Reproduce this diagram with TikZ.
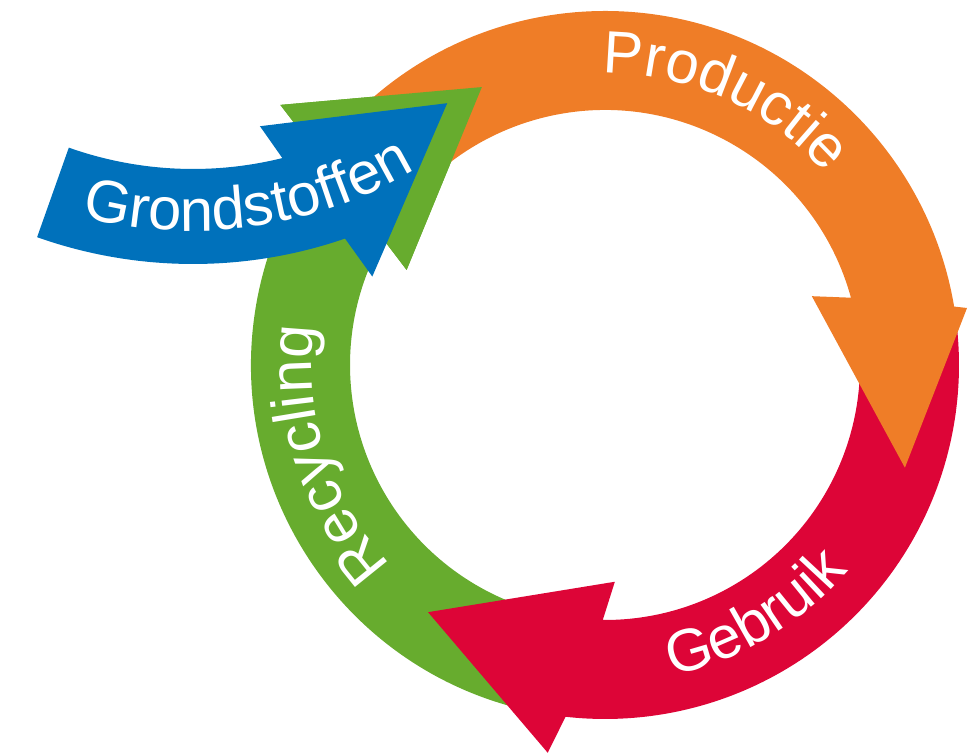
\documentclass[tikz,border=0pt]{standalone}
\usepackage{fontspec}
\setmainfont{Liberation Sans}
\usetikzlibrary{decorations.text}
\definecolor{prodorange}{RGB}{239,125,39}
\definecolor{usered}{RGB}{221,5,55}
\definecolor{recgreen}{RGB}{103,172,46}
\definecolor{rawblue}{RGB}{0,113,187}
\newcommand{\labelfont}{\fontsize{17pt}{17pt}\selectfont}
\tikzset{ringtext/.style={decorate,decoration={text along path,text align=center,text color=white,text={|\labelfont|#1}}}}
\begin{document}
\begin{tikzpicture}
\useasboundingbox (-6.05,-3.89) rectangle (3.62,3.65);
\fill[recgreen] (-100:3.54) arc[start angle=-100,end angle=-216.2,radius=3.54] -- (141.3:4.16) -- (113.9:3.04) -- (154.4:2.20) -- (150.4:2.55) arc[start angle=-209.6,end angle=-100,radius=2.55] -- cycle;
\fill[usered] (7.5:3.54) arc[start angle=7.5,end angle=-96.4,radius=3.54] -- (-98.4:3.92) -- (-125.6:3.04) -- (-87.4:2.17) -- (-90.5:2.55) arc[start angle=-90.5,end angle=7.5,radius=2.55] -- cycle;
\fill[prodorange] (138:3.54) arc[start angle=138,end angle=9.5,radius=3.54] -- (8.95:3.665) -- (-18.9:3.17) -- (18.4:2.18) -- (15.3:2.55) arc[start angle=15.3,end angle=138,radius=2.55] -- cycle;
\fill[recgreen] (141.3:4.16) -- (113.9:3.04) -- (154.4:2.20) -- cycle;
\begin{scope}[shift={(-4.12,5.68)}]
\fill[rawblue] (-109.5:3.72) arc[start angle=-109.5,end angle=-76.1,radius=3.72] -- (-78.5:3.36) -- (-50.3:3.98) -- (-69.5:5.12) -- (-71:4.67) arc[start angle=-71,end angle=-109.5,radius=4.67] -- cycle;
\path[ringtext=Grondstoffen] (-122:4.34) arc[start angle=-122,end angle=-42,radius=4.34];
\end{scope}
\path[ringtext=Productie] (105.7:2.92) arc[start angle=105.7,end angle=25.7,radius=2.92];
\path[ringtext=Gebruik] (-99:3.18) arc[start angle=-99,end angle=-19,radius=3.18];
\path[ringtext=Recycling] (242.8:2.93) arc[start angle=242.8,end angle=152.8,radius=2.93];
\end{tikzpicture}
\end{document}
